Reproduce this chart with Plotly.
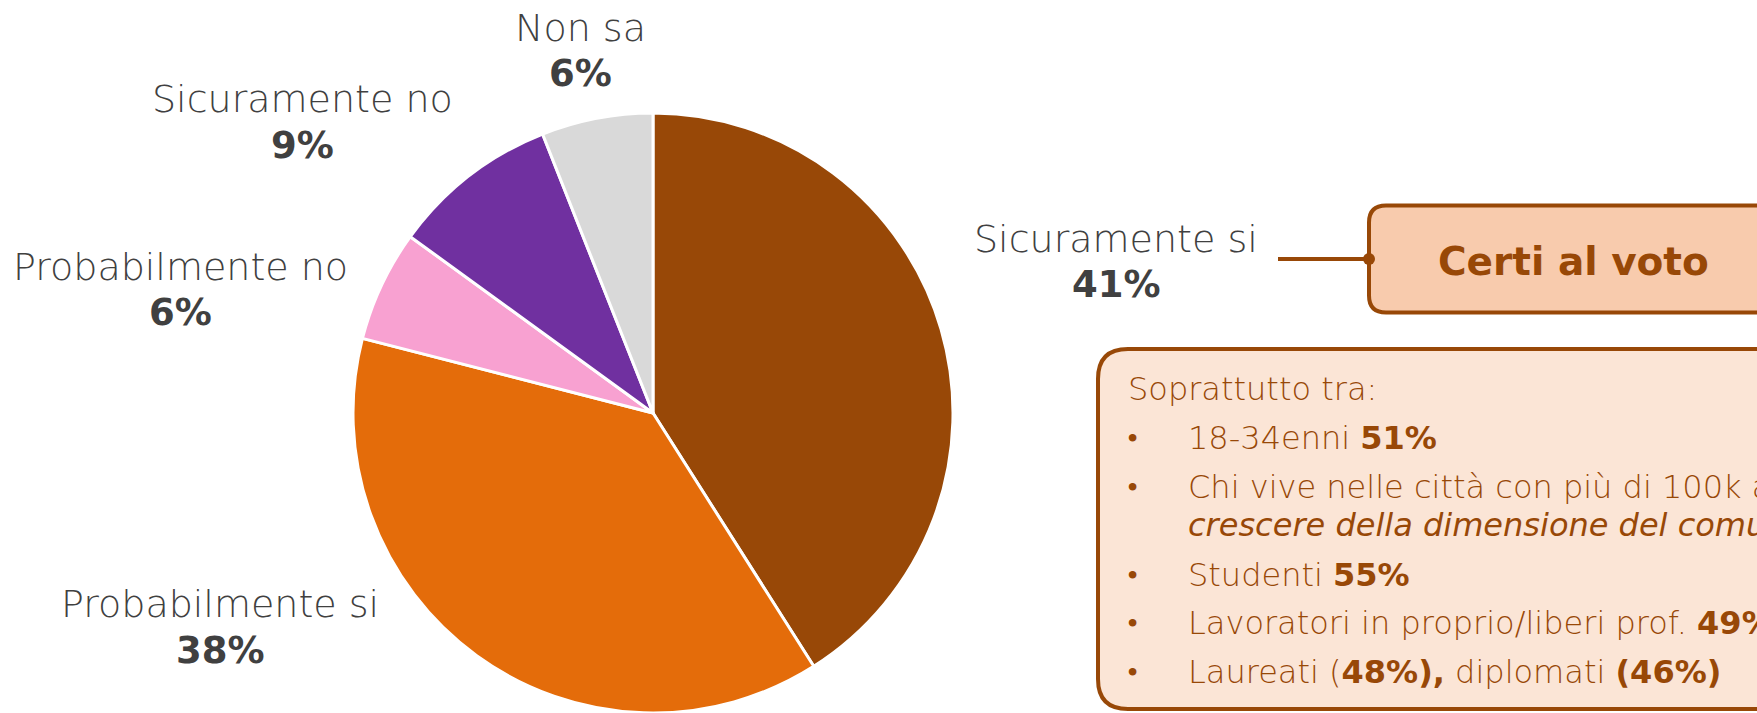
import plotly.graph_objects as go

# ---------------- data ----------------
labels = ["Sicuramente si", "Probabilmente si", "Probabilmente no", "Sicuramente no", "Non sa"]
values = [41, 38, 6, 9, 6]
colors = ["#984807", "#E46C0A", "#F8A1D1", "#7030A0", "#D9D9D9"]

box_title = "Certi al voto"
intro_text = "Soprattutto tra:"
bullet_items = [
    ["18-34enni <b>51%</b>"],
    ["Chi vive nelle città con più di 100k abitanti", "<i>crescere della dimensione del comune</i>"],
    ["Studenti <b>55%</b>"],
    ["Lavoratori in proprio/liberi prof. <b>49%</b>"],
    ["Laureati (<b>48%),</b> diplomati <b>(46%)</b>"],
]

# ---------------- layout helpers (pixels -> paper) ----------------
W, H = 1757, 713
def px(x):
    return x / W
def py(y):
    return 1 - y / H

LABEL_FONT = "DejaVu Sans"
TEXT_GREY = "#404040"
BROWN = "#984807"

# label anchor positions (pixel centres of the two text lines), in slice order
label_pos = [(1116, 239, 284), (220, 604, 650), (180, 267, 312), (302, 99, 145), (580, 28, 73)]

fig = go.Figure()

cx, r_pie, top = 653, 300, 113
fig.add_trace(go.Pie(
    labels=labels,
    values=values,
    sort=False,
    direction="clockwise",
    rotation=0,
    marker=dict(colors=colors, line=dict(color="white", width=3)),
    textinfo="none",
    hoverinfo="label+percent",
    showlegend=False,
    domain=dict(x=[px(cx - r_pie), px(cx + r_pie)], y=[0, py(top)]),
))

annotations = []
for lab, val, (x, y1, y2) in zip(labels, values, label_pos):
    annotations.append(dict(
        x=px(x), y=py(y1), xref="paper", yref="paper",
        xanchor="center", yanchor="middle", align="center",
        text=lab, showarrow=False,
        font=dict(family=LABEL_FONT, size=38, color=TEXT_GREY, weight=300),
    ))
    annotations.append(dict(
        x=px(x), y=py(y2), xref="paper", yref="paper",
        xanchor="center", yanchor="middle", align="center",
        text=f"<b>{val}%</b>", showarrow=False,
        font=dict(family=LABEL_FONT, size=37, color=TEXT_GREY),
    ))

shapes = []
# connector line
shapes.append(dict(type="line", xref="paper", yref="paper",
                   x0=px(1278), x1=px(1369), y0=py(259), y1=py(259),
                   line=dict(color=BROWN, width=4), layer="above"))

def rounded_rect(x0, y0, x1, y1, rad):
    pts = [
        f"M {px(x0 + rad)} {py(y0)}",
        f"L {px(x1 - rad)} {py(y0)}",
        f"Q {px(x1)} {py(y0)} {px(x1)} {py(y0 + rad)}",
        f"L {px(x1)} {py(y1 - rad)}",
        f"Q {px(x1)} {py(y1)} {px(x1 - rad)} {py(y1)}",
        f"L {px(x0 + rad)} {py(y1)}",
        f"Q {px(x0)} {py(y1)} {px(x0)} {py(y1 - rad)}",
        f"L {px(x0)} {py(y0 + rad)}",
        f"Q {px(x0)} {py(y0)} {px(x0 + rad)} {py(y0)}",
        "Z",
    ]
    return " ".join(pts)

# "Certi al voto" box
shapes.append(dict(type="path", xref="paper", yref="paper",
                   path=rounded_rect(1369, 205.5, 1790, 312.5, 17),
                   fillcolor="#F8CBAD", line=dict(color=BROWN, width=4), layer="above"))
# detail box
shapes.append(dict(type="path", xref="paper", yref="paper",
                   path=rounded_rect(1098, 349, 1800, 709, 30),
                   fillcolor="#FBE5D6", line=dict(color=BROWN, width=4), layer="above"))
# connector dot (on top of the box border)
shapes.append(dict(type="circle", xref="paper", yref="paper",
                   x0=px(1363), x1=px(1375), y0=py(253), y1=py(265),
                   fillcolor=BROWN, line=dict(color=BROWN, width=0), layer="above"))

annotations.append(dict(
    x=px(1573), y=py(261), xref="paper", yref="paper",
    xanchor="center", yanchor="middle", text=f"<b>{box_title}</b>", showarrow=False,
    font=dict(family=LABEL_FONT, size=39, color=BROWN),
))

BOX_FONT = dict(family=LABEL_FONT, size=32, color=BROWN, weight=300)
annotations.append(dict(
    x=px(1126), y=py(389), xref="paper", yref="paper",
    xanchor="left", yanchor="middle", text=intro_text, showarrow=False, font=BOX_FONT,
))

line_y = [[438], [487, 525], [575], [623], [672]]
for item, ys in zip(bullet_items, line_y):
    annotations.append(dict(
        x=px(1132), y=py(ys[0]), xref="paper", yref="paper",
        xanchor="center", yanchor="middle", text="•", showarrow=False, font=BOX_FONT,
    ))
    for txt, yy in zip(item, ys):
        annotations.append(dict(
            x=px(1186), y=py(yy), xref="paper", yref="paper",
            xanchor="left", yanchor="middle", text=txt, showarrow=False, font=BOX_FONT,
        ))

fig.update_layout(
    width=W, height=H,
    margin=dict(l=0, r=0, t=0, b=0),
    paper_bgcolor="white", plot_bgcolor="white",
    shapes=shapes, annotations=annotations,
    showlegend=False,
)

fig.write_html(
    "out.html",
    config={"displayModeBar": False},
    post_script="document.body.style.margin='0px';document.body.style.overflow='hidden';",
)
